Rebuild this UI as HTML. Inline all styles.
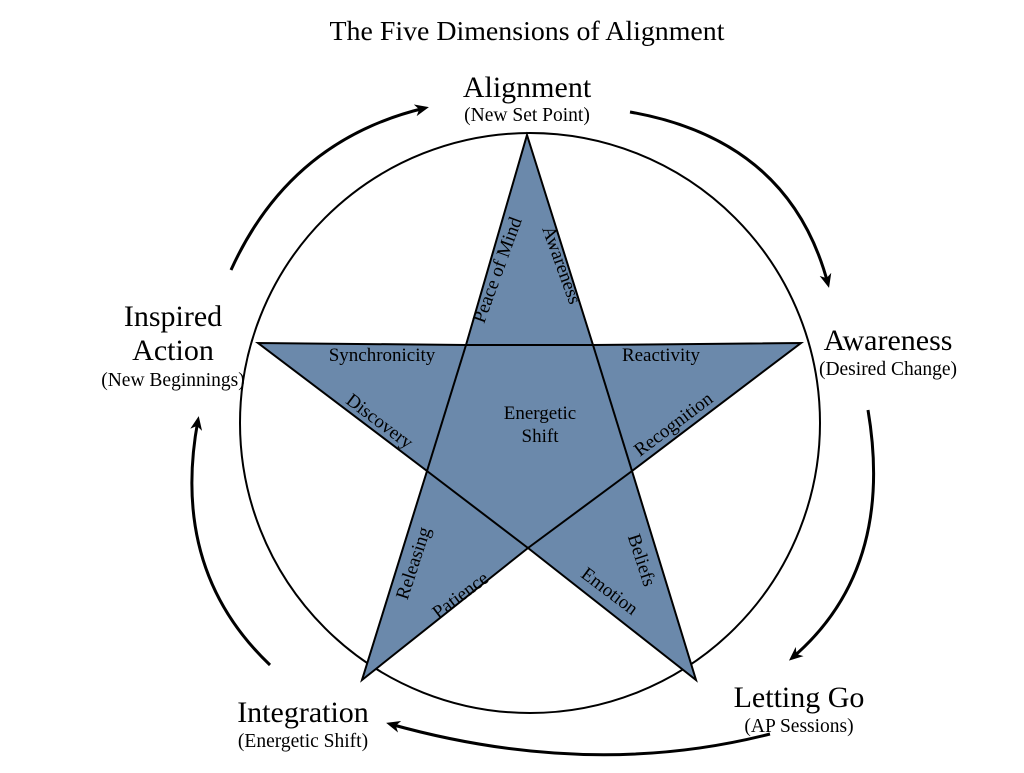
<!DOCTYPE html>
<html><head><style>body{margin:0;background:#fff}</style></head><body>
<svg width="1024" height="768" viewBox="0 0 1024 768" font-family="Liberation Serif, serif">
<defs><marker id="a" markerWidth="14" markerHeight="12" refX="10" refY="6" orient="auto" markerUnits="userSpaceOnUse"><path d="M0,0 L14,6 L0,12 L4,6 Z" fill="#000"/></marker></defs>
<text x="527" y="40" font-size="27" text-anchor="middle" textLength="395" lengthAdjust="spacingAndGlyphs">The Five Dimensions of Alignment</text>
<ellipse cx="530" cy="423" rx="290" ry="290" fill="none" stroke="#000" stroke-width="2"/>
<polygon points="527,135 593,345 801,343 632,471 696,680 528,548 362,680 427,471 258,343 466,345" fill="#6b89ab" stroke="#000" stroke-width="2"/>
<g stroke="#000" stroke-width="2" fill="none">
<line x1="466" y1="345" x2="593" y2="345"/><line x1="593" y1="345" x2="632" y2="471"/><line x1="632" y1="471" x2="528" y2="548"/><line x1="528" y1="548" x2="427" y2="471"/><line x1="427" y1="471" x2="466" y2="345"/>
</g>
<g font-size="19" text-anchor="middle">
<text x="382" y="361">Synchronicity</text>
<text x="661" y="361">Reactivity</text>
<text x="540" y="419">Energetic</text>
<text x="540" y="442">Shift</text>
<text transform="translate(503,272) rotate(-70)">Peace of Mind</text>
<text transform="translate(556,267) rotate(70)">Awareness</text>
<text transform="translate(376,426) rotate(37)">Discovery</text>
<text transform="translate(677,429) rotate(-37)">Recognition</text>
<text transform="translate(419,565) rotate(-72)">Releasing</text>
<text transform="translate(464,600) rotate(-37)">Patience</text>
<text transform="translate(606,596) rotate(37)">Emotion</text>
<text transform="translate(636,562) rotate(72)">Beliefs</text>
</g>
<g text-anchor="middle">
<text x="527" y="97" font-size="30">Alignment</text>
<text x="527" y="121" font-size="19.5">(New Set Point)</text>
<text x="888" y="350" font-size="30">Awareness</text>
<text x="888" y="375" font-size="19.5">(Desired Change)</text>
<text x="173" y="326" font-size="30">Inspired</text>
<text x="173" y="360" font-size="30">Action</text>
<text x="173" y="386" font-size="19.5">(New Beginnings)</text>
<text x="799" y="707" font-size="30">Letting Go</text>
<text x="799" y="732" font-size="19.5">(AP Sessions)</text>
<text x="303" y="722" font-size="30">Integration</text>
<text x="303" y="747" font-size="19.5">(Energetic Shift)</text>
</g>
<g stroke="#000" stroke-width="3" fill="none" marker-end="url(#a)">
<path d="M231,270 Q290,140 425,108"/>
<path d="M630,112 Q790,140 828,284"/>
<path d="M868,410 Q895,570 792,658"/>
<path d="M770,734 Q590,780 390,724"/>
<path d="M270,665 Q170,570 198,420"/>
</g>
</svg>
</body></html>
